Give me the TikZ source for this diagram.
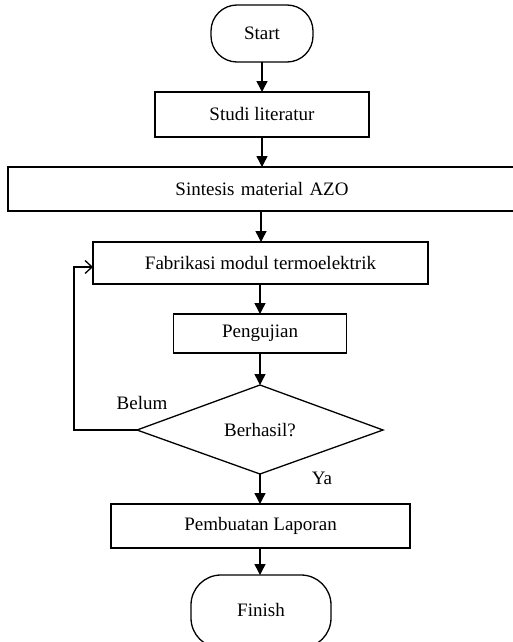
\documentclass[tikz,border=0pt]{standalone}
\usepackage{fontspec}
\setmainfont{Liberation Serif}
\usetikzlibrary{arrows.meta,shapes.geometric}
\begin{document}
\begin{tikzpicture}[x=1pt,y=-1pt,
  every node/.style={font=\fontsize{19}{22}\selectfont},
  box/.style={draw,line width=1.3pt,rectangle,inner sep=0pt},
  term/.style={draw,line width=1.3pt,rectangle,inner sep=0pt},
  arr/.style={line width=1.5pt,-{Triangle[length=11pt,width=11pt]}},
  loop/.style={line width=1.3pt,-{Straight Barb[length=7pt,width=13pt,line width=1.3pt]}},
  lbl/.style={inner sep=0pt}]
\useasboundingbox (0,0) rectangle (512,642);
\node[term,rounded corners=26pt,minimum width=102pt,minimum height=57pt] (start) at (262,33.5) {Start};
\node[box,minimum width=214pt,minimum height=45pt] (studi) at (262,114.5) {Studi literatur};
\node[box,minimum width=520pt,minimum height=44pt,text width=508pt,align=center] (sint) at (268,189) {\hspace*{-12pt}Sintesis material AZO};
\node[box,minimum width=335pt,minimum height=42pt] (fab) at (260.5,263) {Fabrikasi modul termoelektrik};
\node[box,minimum width=173pt,minimum height=39pt] (uji) at (260,333.5) {Pengujian};
\path[draw,line width=1.3pt] (260,385) coordinate (dtop) -- (383,430) coordinate (dright) -- (260,474) coordinate (dbot) -- (137,430) coordinate (dleft) -- cycle;
\node[lbl] (berhasil) at (260,430) {Berhasil?};
\node[box,minimum width=299pt,minimum height=44pt] (lap) at (260.5,526) {Pembuatan Laporan};
\node[term,rounded corners=30pt,minimum width=140pt,minimum height=73pt] (fin) at (261,611.5) {};
\node[lbl] (fintext) at (261,610) {Finish};
\node[lbl] (belum) at (142,403) {Belum};
\node[lbl] (ya) at (322,478) {Ya};
\coordinate (c1) at (74,430);
\coordinate (c2) at (74,267);
\coordinate (fabin) at (93,267);
\draw[arr] (262,62) -- (262,92);
\draw[arr] (262,137) -- (262,167);
\draw[arr] (261,211) -- (261,242);
\draw[arr] (260,284) -- (260,314);
\draw[arr] (260,353) -- (dtop);
\draw[arr] (dbot) -- (260,504);
\draw[arr] (260,548) -- (260,575);
\draw[loop] (dleft) -- (c1) -- (c2) -- (fabin);
\end{tikzpicture}
\end{document}
